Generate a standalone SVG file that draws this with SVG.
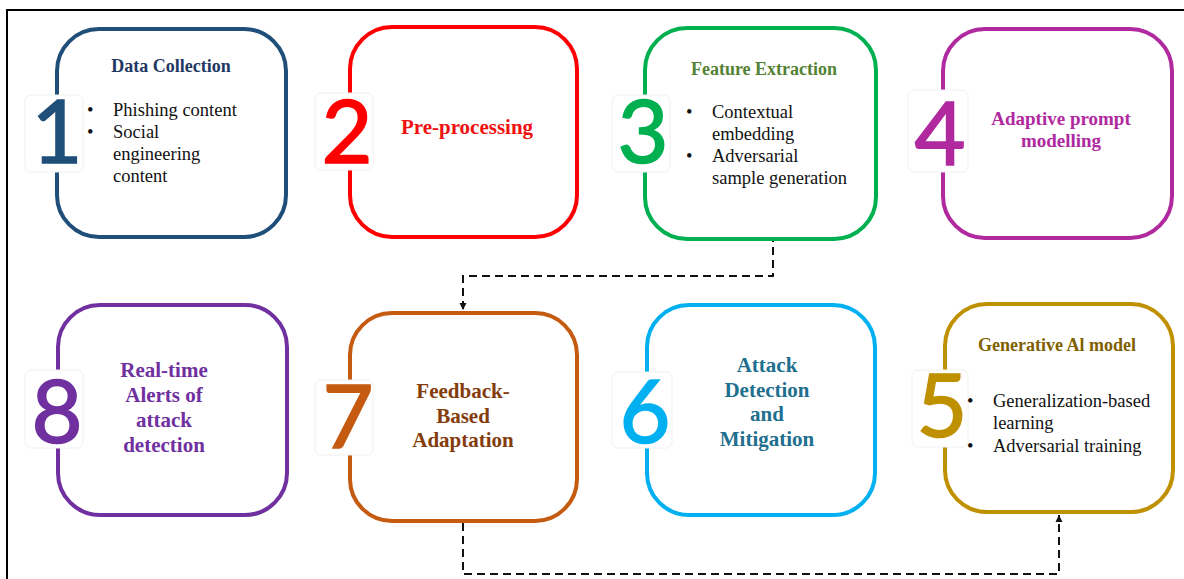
<svg xmlns="http://www.w3.org/2000/svg" width="1184" height="579" viewBox="0 0 1184 579">
<defs>
<style>
.box{fill:#fff;stroke-width:4}
.bg{fill:#fff;stroke:#f0f0f0;stroke-width:1}
.num{font-family:Lato,"Open Sans",sans-serif;font-size:88px;text-anchor:middle;stroke-width:1.6}
.t{font-family:"Liberation Serif","Times New Roman",serif;font-weight:bold;text-anchor:middle}
.b{font-family:"Liberation Serif","Times New Roman",serif;font-size:18.5px;fill:#111}
.conn{fill:none;stroke:#111;stroke-width:2;stroke-dasharray:8 5}
</style>
<marker id="arr" markerUnits="userSpaceOnUse" markerWidth="8" markerHeight="8" refX="7" refY="4" orient="auto">
<path d="M0,0.5 L7,4 L0,7.5 Z" fill="#111"/>
</marker>
</defs>
<rect width="1184" height="579" fill="#fff"/>
<path d="M7,579 V10 H1184" fill="none" stroke="#000" stroke-width="2"/>

<g id="connectors">
<path class="conn" d="M773,195 V276 H463 V310" marker-end="url(#arr)"/>
<path class="conn" d="M463,523 V574 H1059 V515" marker-end="url(#arr)"/>
</g>

<g id="node1">
<rect class="box" x="57" y="29" width="229" height="208" rx="42" stroke="#1F4E79"/>
<rect class="bg" x="25" y="95" width="58" height="77" rx="6"/>
<text class="num" x="57" y="163" fill="#1F4E79" stroke="#1F4E79">1</text>
<text class="t" x="171" y="72" font-size="18" fill="#1F3864">Data Collection</text>
<text class="b" x="87" y="116">•</text>
<text class="b" x="113" y="116">Phishing content</text>
<text class="b" x="87" y="138">•</text>
<text class="b" x="113" y="138">Social</text>
<text class="b" x="113" y="160">engineering</text>
<text class="b" x="113" y="182">content</text>
</g>

<g id="node2">
<rect class="box" x="350" y="27" width="227" height="210" rx="42" stroke="#FF0000"/>
<rect class="bg" x="315" y="93" width="58" height="77" rx="6"/>
<text class="num" x="347" y="163" fill="#FF0000" stroke="#FF0000">2</text>
<text class="t" x="467" y="134" font-size="21" fill="#F01010">Pre-processing</text>
</g>

<g id="node3">
<rect class="box" x="645" y="28" width="231" height="211" rx="42" stroke="#00B050"/>
<rect class="bg" x="612" y="95" width="58" height="77" rx="6"/>
<text class="num" x="643" y="163" fill="#00B050" stroke="#00B050">3</text>
<text class="t" x="764" y="75" font-size="18" fill="#548235">Feature Extraction</text>
<text class="b" x="686" y="118">•</text>
<text class="b" x="712" y="118">Contextual</text>
<text class="b" x="712" y="140">embedding</text>
<text class="b" x="686" y="162">•</text>
<text class="b" x="712" y="162">Adversarial</text>
<text class="b" x="712" y="184">sample generation</text>
</g>

<g id="node4">
<rect class="box" x="943" y="29" width="229" height="209" rx="42" stroke="#B0299F"/>
<rect class="bg" x="908" y="90" width="60" height="82" rx="6"/>
<text class="num" x="940" y="165" fill="#B0299F" stroke="#B0299F">4</text>
<text class="t" x="1061" y="125" font-size="19" fill="#B0299F">Adaptive prompt</text>
<text class="t" x="1061" y="147" font-size="19" fill="#B0299F">modelling</text>
</g>

<g id="node5">
<rect class="box" x="945" y="304" width="228" height="208" rx="42" stroke="#BF9000"/>
<rect class="bg" x="912" y="370" width="56" height="77" rx="6"/>
<text class="num" x="942" y="437" fill="#BF9000" stroke="#BF9000">5</text>
<text class="t" x="1057" y="351" font-size="18" fill="#7F6000">Generative Al model</text>
<text class="b" x="967" y="407">•</text>
<text class="b" x="993" y="407">Generalization-based</text>
<text class="b" x="993" y="429">learning</text>
<text class="b" x="967" y="452">•</text>
<text class="b" x="993" y="452">Adversarial training</text>
</g>

<g id="node6">
<rect class="box" x="647" y="305" width="228" height="210" rx="42" stroke="#00B0F0"/>
<rect class="bg" x="612" y="372" width="60" height="76" rx="6"/>
<text class="num" x="645" y="443" fill="#00B0F0" stroke="#00B0F0">6</text>
<text class="t" x="767" y="372" font-size="21" fill="#1F6F8F">Attack</text>
<text class="t" x="767" y="397" font-size="21" fill="#1F6F8F">Detection</text>
<text class="t" x="767" y="421" font-size="21" fill="#1F6F8F">and</text>
<text class="t" x="767" y="446" font-size="21" fill="#1F6F8F">Mitigation</text>
</g>

<g id="node7">
<rect class="box" x="350" y="313" width="227" height="208" rx="42" stroke="#C55A11"/>
<rect class="bg" x="315" y="380" width="58" height="75" rx="6"/>
<text class="num" x="348" y="448" fill="#C55A11" stroke="#C55A11">7</text>
<text class="t" x="463" y="398" font-size="21" fill="#843C0C">Feedback-</text>
<text class="t" x="463" y="423" font-size="21" fill="#843C0C">Based</text>
<text class="t" x="463" y="447" font-size="21" fill="#843C0C">Adaptation</text>
</g>

<g id="node8">
<rect class="box" x="58" y="305" width="229" height="210" rx="42" stroke="#7030A0"/>
<rect class="bg" x="25" y="370" width="58" height="78" rx="6"/>
<text class="num" x="57" y="443" fill="#7030A0" stroke="#7030A0">8</text>
<text class="t" x="164" y="377" font-size="21" fill="#7030A0">Real-time</text>
<text class="t" x="164" y="402" font-size="21" fill="#7030A0">Alerts of</text>
<text class="t" x="164" y="427" font-size="21" fill="#7030A0">attack</text>
<text class="t" x="164" y="452" font-size="21" fill="#7030A0">detection</text>
</g>
</svg>
